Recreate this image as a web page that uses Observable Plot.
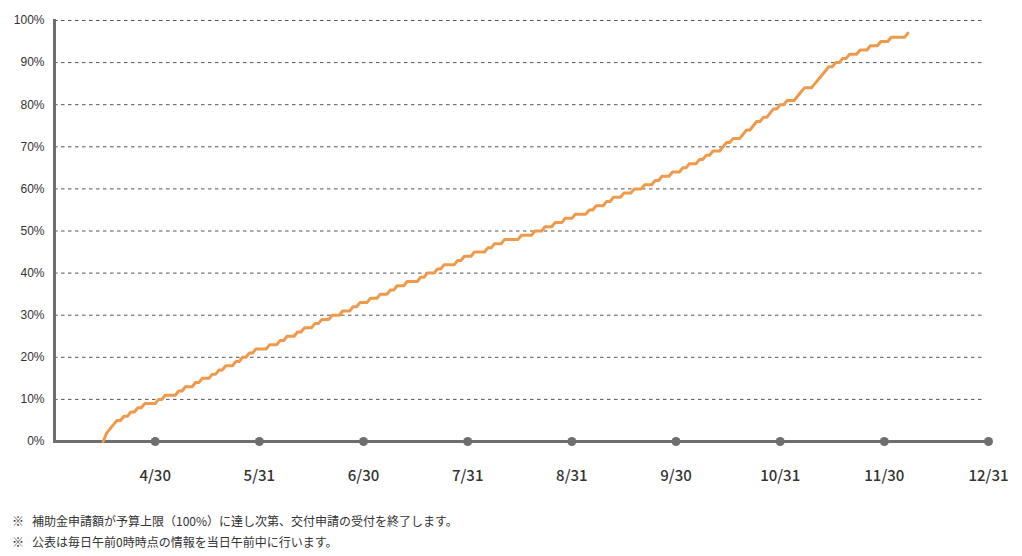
<!DOCTYPE html>
<html><head><meta charset="utf-8">
<script src="https://cdn.jsdelivr.net/npm/d3@7"></script>
<script src="https://cdn.jsdelivr.net/npm/@observablehq/plot@0.6"></script>
<style>
body{margin:0;background:#fff;}
#notes{font-family:"Noto Sans CJK JP","Noto Sans",sans-serif;font-size:12px;color:#333;padding:10px 0 0 12px;line-height:21px;}
#notes .m{margin-right:8px;}
</style></head><body>
<div id="chart"></div>
<div id="notes"></div>
<script>
// ---- data ----
const year = 2023;
const firstDay = [4, 15]; // month, day of first daily value
const values = [
  // April 15-30
  0,2,3,4,5,5,6,6,7,7,8,8,9,9,9,9,
  // May
  10,10,11,11,11,11,12,12,13,13,13,14,14,15,15,15,16,16,17,17,18,18,18,19,19,20,20,21,21,22,22,
  // June
  22,22,23,23,23,24,24,25,25,25,26,26,27,27,27,28,28,29,29,29,30,30,30,31,31,31,32,32,33,33,
  // July
  33,34,34,34,35,35,35,36,36,37,37,37,38,38,38,38,39,39,40,40,40,41,41,42,42,42,42,43,43,44,44,
  // August
  44,45,45,45,45,46,46,47,47,47,48,48,48,48,48,49,49,49,49,50,50,50,51,51,51,52,52,52,53,53,53,
  // September
  54,54,54,54,55,55,56,56,56,57,57,58,58,58,59,59,59,60,60,60,61,61,61,62,62,63,63,63,64,64,
  // October
  64,65,65,66,66,66,67,67,68,68,69,69,69,70,71,71,72,72,72,73,74,74,75,76,76,77,77,78,79,79,80,
  // November
  80,81,81,81,82,83,84,84,84,85,86,87,88,89,89,90,90,91,91,92,92,92,93,93,93,94,94,94,95,95,
  // December 1-7
  95,96,96,96,96,96,97
];
const tickMonths = [4,5,6,7,8,9,10,11,12];
const tickLabels = ["4/30","5/31","6/30","7/31","8/31","9/30","10/31","11/30","12/31"];
const yTicks = [0,10,20,30,40,50,60,70,80,90,100];
const notes = [
  "補助金申請額が予算上限（100%）に達し次第、交付申請の受付を終了します。",
  "公表は毎日午前0時時点の情報を当日午前中に行います。"
];

// ---- helpers ----
// month-end positions are evenly spaced: position = month index + fraction of month
const pos = d => d.getMonth() + d.getDate() / new Date(d.getFullYear(), d.getMonth() + 1, 0).getDate();
const start = new Date(year, firstDay[0] - 1, firstDay[1]);
const data = values.map((v, i) => ({date: d3.timeDay.offset(start, i), v}));
const ticks = tickMonths.map((m, i) => ({date: new Date(year, m, 0), label: tickLabels[i]}));
const xDomain = [pos(new Date(year, 3, 1)), pos(new Date(year, 11, 31))];

const chart = Plot.plot({
  width: 1022, height: 500,
  marginLeft: 54, marginRight: 34, marginTop: 20, marginBottom: 59,
  style: {fontFamily: "Liberation Sans, Arial, sans-serif", fontSize: "12px", color: "#333", background: "#fff"},
  x: {type: "linear", domain: xDomain, axis: null},
  y: {domain: [0, 100], axis: null},
  marks: [
    Plot.ruleY(yTicks.filter(d => d > 0), {stroke: "#555", strokeWidth: 1, strokeDasharray: "3.5,3.5", insetRight: 6}),
    Plot.axisY(yTicks, {tickSize: 0, tickPadding: 10, tickFormat: d => d + "%", fill: "#333", fontSize: 12, label: null}),
    Plot.frame({anchor: "left", stroke: "#6e6e6e", strokeWidth: 3}),
    Plot.frame({anchor: "bottom", stroke: "#6e6e6e", strokeWidth: 3}),
    Plot.dot(ticks, {x: d => pos(d.date), y: () => 0, r: 4.5, fill: "#6e6e6e", stroke: null}),
    Plot.text(ticks, {x: d => pos(d.date), y: () => 0, text: "label", dy: 35, fontSize: 15, fontWeight: 500,
      fill: "#333", fontFamily: "Noto Sans CJK JP, Noto Sans, sans-serif"}),
    Plot.line(data, {x: d => pos(d.date), y: "v", stroke: "#ef9a4a", strokeWidth: 3, strokeLinejoin: "round", strokeLinecap: "round"})
  ]
});
document.getElementById("chart").appendChild(chart);
const nd = document.getElementById("notes");
notes.forEach(t => {
  const div = document.createElement("div");
  const m = document.createElement("span"); m.className = "m"; m.textContent = "※";
  div.appendChild(m); div.appendChild(document.createTextNode(t));
  nd.appendChild(div);
});
</script>
</body></html>
